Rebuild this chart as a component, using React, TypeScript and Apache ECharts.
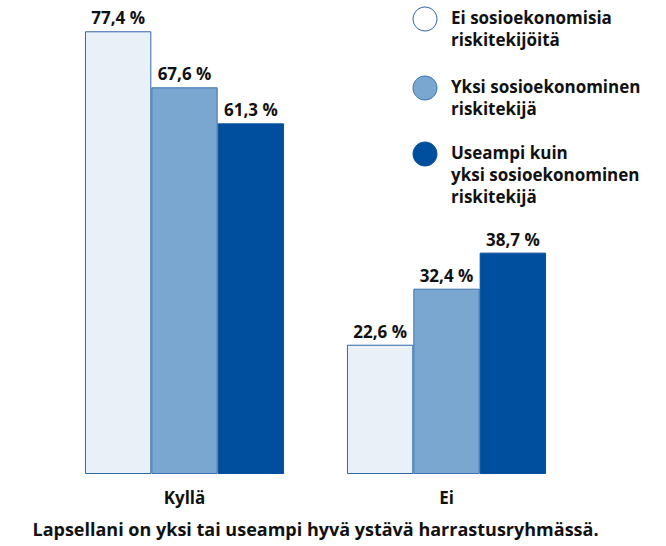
import React, { useEffect, useRef } from "react";
import * as echarts from "echarts";

const categories = ["Kyllä", "Ei"];
const seriesNames = [
  "Ei sosioekonomisia\nriskitekijöitä",
  "Yksi sosioekonominen\nriskitekijä",
  "Useampi kuin\nyksi sosioekonominen\nriskitekijä",
];
const noRisk = [77.4, 22.6];
const oneRisk = [67.6, 32.4];
const multiRisk = [61.3, 38.7];
const xTitle = "Lapsellani on yksi tai useampi hyvä ystävä harrastusryhmässä.";

const FONT = "Open Sans";
const FS = 17;
const fills = ["#e9f0f8", "#7aa7cf", "#004f9e"];
const borders = ["#2f66a8", "#3d73b0", "#004f9e"];

export default function App() {
  const ref = useRef<HTMLDivElement>(null);
  useEffect(() => {
    if (!ref.current) return;
    const chart = echarts.init(ref.current, null, { renderer: "svg" });
    const data = [noRisk, oneRisk, multiRisk];
    const fmt = (p: any) => p.value.toFixed(1).replace(".", ",") + " %";
    const legendY = [19, 88, 154];
    const legendGraphics: any[] = [];
    seriesNames.forEach((n, i) => {
      legendGraphics.push({
        type: "circle",
        shape: { cx: 425, cy: legendY[i], r: 12 },
        style: { fill: i === 0 ? "#ffffff" : fills[i], stroke: borders[i], lineWidth: 1 },
      });
      legendGraphics.push({
        type: "text",
        x: 451,
        y: legendY[i] - 13,
        style: {
          text: n,
          fill: "#111111",
          font: `bold ${FS}px ${FONT}`,
          lineHeight: 22,
          verticalAlign: "top",
        },
      });
    });
    chart.setOption({
      animation: false,
      grid: { left: 53.5, right: 88.5, top: 16.4, bottom: 72 },
      xAxis: {
        type: "category",
        data: categories,
        axisLine: { show: false },
        axisTick: { show: false },
        axisLabel: {
          margin: 15,
          color: "#111111",
          fontFamily: FONT,
          fontWeight: "bold",
          fontSize: FS,
        },
        name: xTitle,
        nameLocation: "middle",
        nameGap: 46,
        nameTextStyle: {
          color: "#111111",
          fontFamily: FONT,
          fontWeight: "bold",
          fontSize: 18,
        },
      },
      yAxis: {
        type: "value",
        min: 0,
        max: 80,
        show: false,
        splitLine: { show: false },
      },
      series: data.map((d, i) => ({
        type: "bar",
        name: seriesNames[i],
        data: d,
        barGap: "0%",
        barCategoryGap: "24%",
        itemStyle: { color: fills[i], borderColor: borders[i], borderWidth: 1 },
        label: {
          show: true,
          position: "top",
          distance: 5,
          formatter: fmt,
          color: "#111111",
          fontFamily: FONT,
          fontWeight: "bold",
          fontSize: FS,
        },
      })),
      graphic: legendGraphics,
    });
    return () => chart.dispose();
  }, []);
  return (
    <div
      ref={ref}
      style={{ position: "absolute", left: 0, top: 0, width: 666, height: 546 }}
    />
  );
}
